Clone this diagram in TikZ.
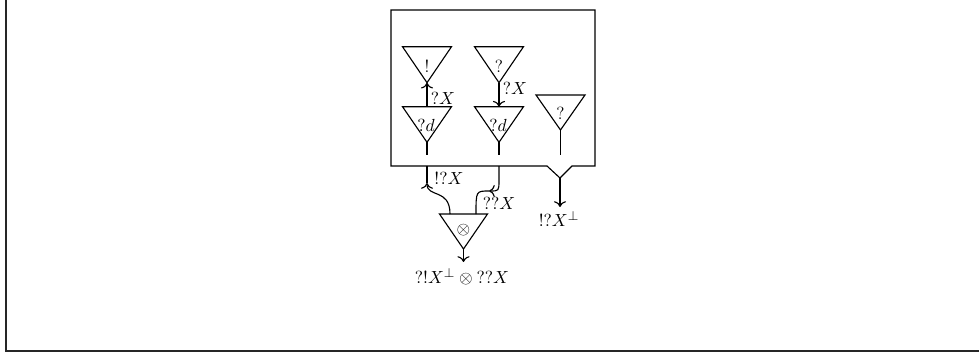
\documentclass[tikz,border=0pt]{standalone}
\usetikzlibrary{arrows.meta}
\newcommand{\mytri}[5]{%
  \draw (#2-#4,#3) -- (#2+#4,#3) -- (#2,#3+#5) -- cycle;
  \coordinate (#1-top) at (#2,#3);
  \coordinate (#1-apex) at (#2,#3+#5);}
\begin{document}
\begin{tikzpicture}[x=0.625pt,y=-0.625pt, line width=0.7pt,
  tip/.style={-{To[scale=1.15]}},
  lbl/.style={inner sep=0pt, font=\fontsize{11}{13}\selectfont}]
\useasboundingbox (0,0) rectangle (979,353);
\draw[line width=1.1pt, black!85] (6,0) -- (6,351) -- (979,351);
% box with port notch
\draw (391,10) -- (595,10) -- (595,166) -- (572,166) -- (560,178) -- (547,166) -- (391,166) -- cycle;
\coordinate (port) at (560,178);
% triangles
\mytri{b1}{427}{46.7}{24.5}{36}
\mytri{q2}{499}{46.7}{24.5}{36}
\mytri{d1}{427}{106.7}{24.5}{35.6}
\mytri{d2}{499}{106.7}{24.5}{35.6}
\mytri{q3}{560.5}{95}{24.5}{35}
\mytri{t}{463.5}{214}{24}{35}
\node[lbl] (nb1) at (427,66) {!};
\node[lbl] (nq2) at (499,66) {?};
\node[lbl] (nd1) at (426,125.5) {$?d$};
\node[lbl] (nd2) at (498,125.5) {$?d$};
\node[lbl] (nq3) at (560.5,113) {?};
\node[lbl] (nt) at (463.5,230) {$\otimes$};
% inner arrows
\draw[tip] (d1-top) -- (b1-apex);
\draw[tip] (q2-apex) -- (d2-top);
\node[lbl] (l1) at (443,98) {$?X$};
\node[lbl] (l2) at (515,88) {$?X$};
% inner wires
\draw (d1-apex) -- ++(0,13);
\draw (d2-apex) -- ++(0,13);
\draw (q3-apex) -- (560.5,155);
% outer wires
\coordinate (lw) at (427,166);
\coordinate (le) at (427,183);
\coordinate (mw) at (499,166);
\coordinate (me) at (489,191);
\coordinate (tin1) at (450,214);
\coordinate (tin2) at (476,214);
\draw (lw) -- (le);
\draw[tip] (tin1) .. controls (450,188) and (427,198) .. (le);
\draw[tip] (mw) -- (499,180) .. controls (499,191) .. (me);
\draw (me) .. controls (476,191) .. (tin2);
\node[lbl] (l3) at (449,178) {$!?X$};
\node[lbl] (l4) at (499,203) {$??X$};
% port output
\coordinate (pe) at (560,207);
\draw[tip] (port) -- (pe);
\node[lbl] (l5) at (559,219) {$!?X^\perp$};
% tensor output
\coordinate (te) at (463.5,262);
\draw[tip] (t-apex) -- (te);
\node[lbl] (l6) at (462,277) {$?!X^\perp\otimes{}??X$};
\end{tikzpicture}
\end{document}
